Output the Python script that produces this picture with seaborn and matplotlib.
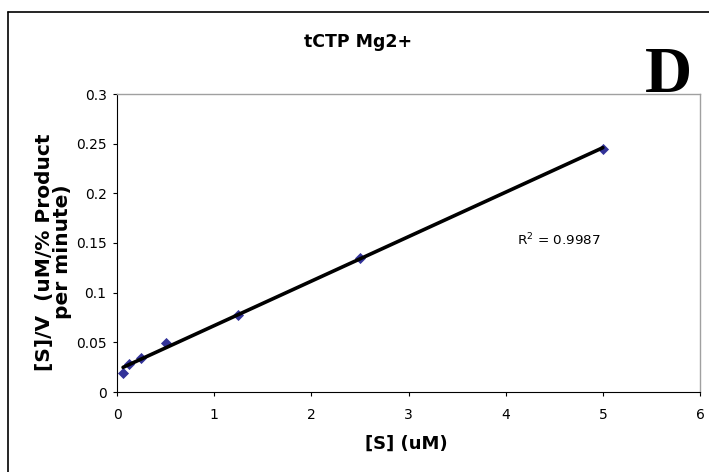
import numpy as np
import pandas as pd
import matplotlib
matplotlib.use("Agg")
import matplotlib.pyplot as plt
from matplotlib.lines import Line2D
import seaborn as sns

# Data
substrate_uM = [0.0625, 0.125, 0.25, 0.5, 1.25, 2.5, 5.0]
s_over_v = [0.019, 0.028, 0.034, 0.049, 0.078, 0.135, 0.245]
x_ticks = [0, 1, 2, 3, 4, 5, 6]
y_ticks = [0, 0.05, 0.1, 0.15, 0.2, 0.25, 0.3]
y_tick_labels = ["0", "0.05", "0.1", "0.15", "0.2", "0.25", "0.3"]
r2_text = "R$^2$ = 0.9987"
title = "tCTP Mg2+"
panel_letter = "D"

df = pd.DataFrame({"S": substrate_uM, "SV": s_over_v})

sns.set_style("white")
plt.rcParams["font.family"] = ["DejaVu Sans"]
plt.rcParams.update({"text.color": "black", "axes.labelcolor": "black",
                     "xtick.color": "black", "ytick.color": "black"})

fig = plt.figure(figsize=(7.09, 4.72), dpi=100)
ax = fig.add_axes([117 / 709, 1 - 392 / 472, (700 - 117) / 709, (392 - 94) / 472])

sns.regplot(data=df, x="S", y="SV", ax=ax, ci=None, truncate=True, marker="D",
            scatter_kws=dict(s=32, color="#000080", zorder=2, linewidths=0),
            line_kws=dict(color="black", lw=2.6, zorder=3))

ax.set_xlim(0, 6)
ax.set_ylim(0, 0.3)
ax.set_xticks(x_ticks)
ax.set_xticklabels([str(t) for t in x_ticks])
ax.set_yticks(y_ticks)
ax.set_yticklabels(y_tick_labels)
ax.tick_params(axis="both", direction="out", length=3, width=0.8, labelsize=10,
               color="black", bottom=True, left=True)
ax.tick_params(axis="x", pad=8.5)
ax.tick_params(axis="y", pad=4.5)
for side in ["top", "right"]:
    ax.spines[side].set_color("#a0a0a0")
    ax.spines[side].set_linewidth(1.0)
for side in ["left", "bottom"]:
    ax.spines[side].set_color("black")
    ax.spines[side].set_linewidth(0.8)

ax.set_xlabel("[S] (uM)", fontsize=13, fontweight="bold")
ax.xaxis.set_label_coords(0.497, -0.145)
ax.set_ylabel("[S]/V  (uM/% Product\nper minute)", fontsize=14.5, fontweight="bold",
              linespacing=0.95)
ax.yaxis.set_label_coords(-0.077, 0.47)

ax.text(4.12, 0.153, r2_text, fontsize=9.7, va="center", ha="left")

fig.text(358 / 709, 1 - 42 / 472, title, fontsize=12.5, fontweight="bold",
         ha="center", va="center")
fig.text(668 / 709, 1 - 76 / 472, panel_letter, fontsize=47, fontweight="bold",
         family="Liberation Serif", ha="center", va="center", color="black")

# outer chart border
fig.add_artist(Line2D([8 / 709, 8 / 709], [0, 1 - 12 / 472], transform=fig.transFigure,
                      color="black", lw=1.2))
fig.add_artist(Line2D([8 / 709, 1], [1 - 12 / 472, 1 - 12 / 472], transform=fig.transFigure,
                      color="black", lw=1.2))

fig.savefig("out.png", dpi=100)
